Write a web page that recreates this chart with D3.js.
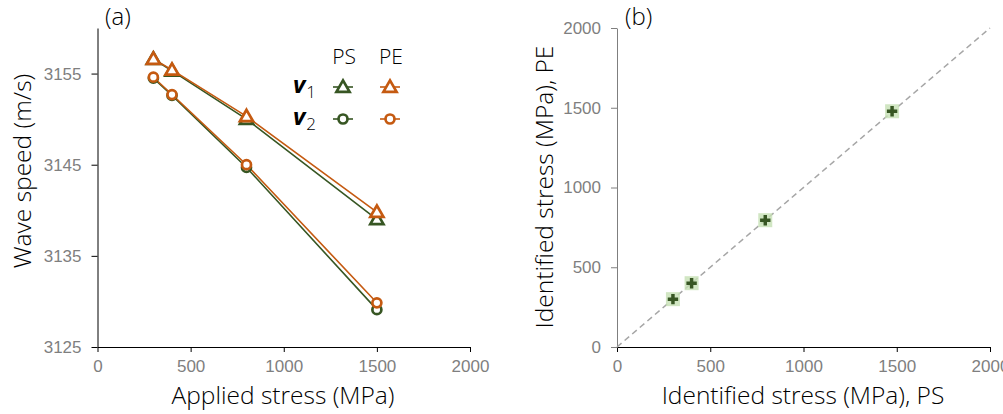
<!DOCTYPE html>
<html><head><meta charset="utf-8">
<script src="https://cdn.jsdelivr.net/npm/d3@7"></script>
<style>
body{margin:0;background:#fff;}
svg{display:block;font-family:"Open Sans","Noto Sans",sans-serif;}
</style></head>
<body><svg id="c" width="1003" height="414"></svg>
<script>
// ---- data ----
const stress = [300, 400, 800, 1500];
const v1PS = [3156.6, 3155.3, 3150.0, 3139.0];
const v1PE = [3156.6, 3155.4, 3150.3, 3139.8];
const v2PS = [3154.5, 3152.6, 3144.7, 3129.1];
const v2PE = [3154.6, 3152.7, 3145.0, 3129.85];
const xTicksA = [0, 500, 1000, 1500, 2000];
const yTicksA = [3125, 3135, 3145, 3155];
const idPS = [300, 400, 795, 1475];
const idPE = [300, 400, 795, 1478];
const ticksB = [0, 500, 1000, 1500, 2000];

const GREEN = "#375623", ORANGE = "#C55A11";
const TICK_FS = "17px", TITLE_FS = "24.5px";
const svg = d3.select("#c");
const fmt = d3.format("d");

function styleAxis(g, col) {
  g.select(".domain").attr("stroke", col);
  g.selectAll("line").attr("stroke", col);
  g.selectAll("text").attr("fill", "#7f7f7f").style("font-size", TICK_FS).style("font-weight", 300);
}

// ---- panel (a) ----
const xA = d3.scaleLinear().domain([0, 2000]).range([97.5, 470]);
const yA = d3.scaleLinear().domain([3125, 3160]).range([347, 28]);
const gA = svg.append("g");

gA.append("g").attr("transform", "translate(0,347)")
  .call(d3.axisBottom(xA).tickValues(xTicksA).tickFormat(fmt).tickSize(5).tickSizeOuter(0).tickPadding(8))
  .call(g => styleAxis(g, "#000"));
gA.append("g").attr("transform", "translate(97.5,0)")
  .call(d3.axisLeft(yA).tickValues(yTicksA).tickFormat(fmt).tickSize(6).tickSizeOuter(0).tickPadding(10))
  .call(g => styleAxis(g, "#000"));

const triSym = d3.symbol().type(d3.symbolTriangle).size(75);
const seriesA = [
  {vals: v1PS, color: GREEN, m: "tri"},
  {vals: v2PS, color: GREEN, m: "circ"},
  {vals: v1PE, color: ORANGE, m: "tri"},
  {vals: v2PE, color: ORANGE, m: "circ"}
];
const lineA = d3.line().x((d, i) => xA(stress[i])).y(d => yA(d));
seriesA.forEach(s => {
  gA.append("path").attr("d", lineA(s.vals)).attr("fill", "none")
    .attr("stroke", s.color).attr("stroke-width", 1.6);
});
function marker(g, m, x, y, color) {
  if (m === "tri") {
    g.append("path").attr("d", triSym()).attr("transform", `translate(${x},${y+1})`)
      .attr("fill", "#fff").attr("stroke", color).attr("stroke-width", 2.7);
  } else {
    g.append("circle").attr("cx", x).attr("cy", y).attr("r", 4.5)
      .attr("fill", "#fff").attr("stroke", color).attr("stroke-width", 2.7);
  }
}
seriesA.forEach(s => {
  s.vals.forEach((v, i) => marker(gA, s.m, xA(stress[i]), yA(v), s.color));
});

// legend
const leg = gA.append("g");
leg.append("text").attr("x", 344).attr("y", 64).attr("text-anchor", "middle")
  .style("font-size", "21px").style("font-weight", 300).attr("fill", "#000").text("PS");
leg.append("text").attr("x", 391).attr("y", 64).attr("text-anchor", "middle")
  .style("font-size", "21px").style("font-weight", 300).attr("fill", "#000").text("PE");
[["1", 87, "tri"], ["2", 119, "circ"]].forEach(([sub, y, m]) => {
  const t = leg.append("text").attr("x", 293).attr("y", y + 6).attr("fill", "#000");
  t.append("tspan").style("font-size", "24px").style("font-weight", 700).style("font-style", "italic").text("v");
  t.append("tspan").attr("dx", 1).attr("dy", 5).style("font-size", "17px").style("font-weight", 300).text(sub);
  [[343, GREEN], [390, ORANGE]].forEach(([x, c]) => {
    leg.append("line").attr("x1", x - 10).attr("x2", x + 10).attr("y1", y).attr("y2", y)
      .attr("stroke", c).attr("stroke-width", 1.6);
    marker(leg, m, x, y, c);
  });
});

gA.append("text").attr("x", 105).attr("y", 25).style("font-size", "24px").style("font-weight", 300)
  .attr("fill", "#000").text("(a)");
gA.append("text").attr("transform", "translate(31,171) rotate(-90)").attr("text-anchor", "middle")
  .style("font-size", TITLE_FS).style("font-weight", 300).attr("fill", "#000").text("Wave speed (m/s)");
gA.append("text").attr("x", 283).attr("y", 404).attr("text-anchor", "middle")
  .style("font-size", TITLE_FS).style("font-weight", 300).attr("fill", "#000").text("Applied stress (MPa)");

// ---- panel (b) ----
const xB = d3.scaleLinear().domain([0, 2000]).range([617, 990]);
const yB = d3.scaleLinear().domain([0, 2000]).range([347, 28]);
const gB = svg.append("g");
gB.append("g").attr("transform", "translate(0,347)")
  .call(d3.axisBottom(xB).tickValues(ticksB).tickFormat(fmt).tickSize(5).tickSizeOuter(0).tickPadding(8))
  .call(g => styleAxis(g, "#000"));
gB.append("g").attr("transform", "translate(617,0)")
  .call(d3.axisLeft(yB).tickValues(ticksB).tickFormat(fmt).tickSize(6).tickSizeOuter(0).tickPadding(10))
  .call(g => styleAxis(g, "#7f7f7f"));

gB.append("line").attr("x1", xB(0)).attr("y1", yB(0)).attr("x2", xB(2000)).attr("y2", yB(2000))
  .attr("stroke", "#a6a6a6").attr("stroke-width", 1.5).attr("stroke-dasharray", "6,4");

const plusSym = d3.symbol().type(d3.symbolCross).size(60);
idPS.forEach((v, i) => {
  const x = xB(v), y = yB(idPE[i]);
  gB.append("rect").attr("x", x - 7).attr("y", y - 7).attr("width", 14).attr("height", 14)
    .attr("fill", "#c5e0b4").attr("opacity", 0.8);
  gB.append("path").attr("d", plusSym()).attr("transform", `translate(${x},${y})`).attr("fill", GREEN);
});

gB.append("text").attr("x", 625).attr("y", 25).style("font-size", "24px").style("font-weight", 300)
  .attr("fill", "#000").text("(b)");
gB.append("text").attr("transform", "translate(553,187) rotate(-90)").attr("text-anchor", "middle")
  .style("font-size", TITLE_FS).style("font-weight", 300).attr("fill", "#000").text("Identified stress (MPa), PE");
gB.append("text").attr("x", 803).attr("y", 404).attr("text-anchor", "middle")
  .style("font-size", TITLE_FS).style("font-weight", 300).attr("fill", "#000").text("Identified stress (MPa), PS");
</script></body></html>
